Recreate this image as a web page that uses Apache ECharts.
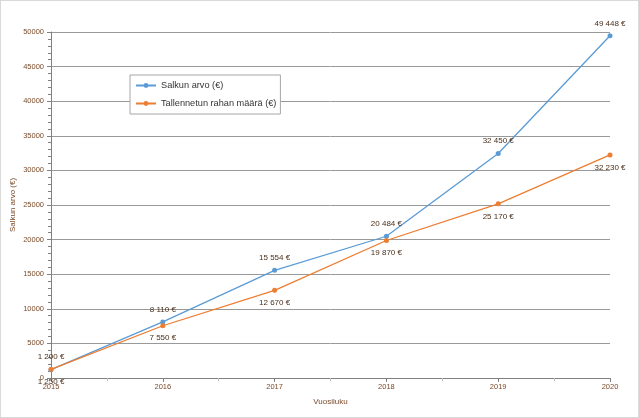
<!DOCTYPE html>
<html><head><meta charset="utf-8">
<script src="https://cdn.jsdelivr.net/npm/echarts@6/dist/echarts.min.js"></script>
<style>html,body{margin:0;padding:0;background:#fff}#c{width:639px;height:418px;box-sizing:border-box;border:1px solid #d9d9d9}</style>
</head><body><div id="c"></div>
<script>
const years = [2015, 2016, 2017, 2018, 2019, 2020];
const salkunArvo = [1200, 8110, 15554, 20484, 32450, 49448];
const tallennettu = [1250, 7550, 12670, 19870, 25170, 32230];
const seriesNames = ['Salkun arvo (€)', 'Tallennetun rahan määrä (€)'];
const yAxisName = 'Salkun arvo (€)';
const xAxisName = 'Vuosiluku';

const fmt = v => String(v).replace(/\B(?=(\d{3})+(?!\d))/g, ' ') + ' €';
const font = 'Liberation Sans, Arial, sans-serif';
const chart = echarts.init(document.getElementById('c'));
chart.setOption({
  animation: false,
  textStyle: {fontFamily: font},
  grid: {left: 50, right: 28, top: 31, bottom: 39, containLabel: false, outerBoundsMode: 'none'},
  legend: {
    left: 129, top: 74, orient: 'vertical', itemGap: 9, itemWidth: 20, itemHeight: 6,
    backgroundColor: '#fff', borderColor: '#a6a6a6', borderWidth: 1, padding: [6, 4, 6, 5],
    textStyle: {fontSize: 9.2, color: '#333', fontFamily: font}, data: seriesNames
  },
  xAxis: {
    type: 'value', min: 2015, max: 2020, interval: 1,
    name: xAxisName, nameLocation: 'middle', nameGap: 20, nameMoveOverlap: false,
    nameTextStyle: {fontSize: 8, color: '#7a4a2a'},
    axisLine: {lineStyle: {color: '#808080'}},
    axisTick: {show: true, length: 4, lineStyle: {color: '#808080'}},
    minorTick: {show: true, splitNumber: 2, length: 3, lineStyle: {color: '#bfbfbf'}},
    splitLine: {show: false},
    axisLabel: {fontSize: 7.5, color: '#7a4a2a', margin: 5, formatter: v => String(v)}
  },
  yAxis: {
    type: 'value', min: 0, max: 50000, interval: 5000,
    name: yAxisName, nameLocation: 'middle', nameGap: 34, nameRotate: 90, nameMoveOverlap: false,
    nameTextStyle: {fontSize: 8, color: '#7a4a2a'},
    axisLine: {show: true, lineStyle: {color: '#808080'}},
    axisTick: {show: true, length: 4, lineStyle: {color: '#808080'}},
    minorTick: {show: true, splitNumber: 5, length: 3, lineStyle: {color: '#808080'}},
    splitLine: {show: true, lineStyle: {color: '#999', width: 1}},
    axisLabel: {fontSize: 7.5, color: '#7a4a2a', margin: 7, formatter: v => String(v)}
  },
  series: [
    {
      name: seriesNames[0], type: 'line', data: years.map((y, i) => [y, salkunArvo[i]]),
      symbol: 'circle', symbolSize: 5, color: '#5b9bd5', lineStyle: {width: 1.3},
      label: {show: true, position: 'top', distance: 6, fontSize: 8, color: '#4a2f1a', formatter: p => fmt(p.value[1])}
    },
    {
      name: seriesNames[1], type: 'line', data: years.map((y, i) => [y, tallennettu[i]]),
      symbol: 'circle', symbolSize: 5, color: '#ed7d31', lineStyle: {width: 1.3},
      label: {show: true, position: 'bottom', distance: 6, fontSize: 8, color: '#4a2f1a', formatter: p => fmt(p.value[1])}
    }
  ]
});
</script></body></html>
